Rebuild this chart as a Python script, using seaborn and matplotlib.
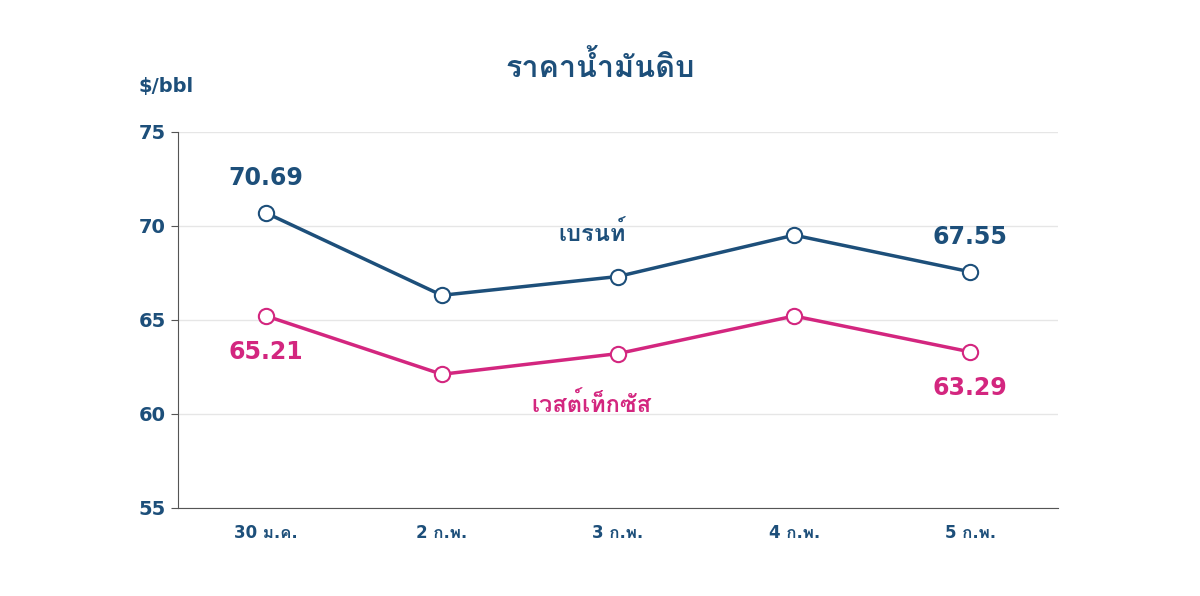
import matplotlib
matplotlib.use("Agg")
import matplotlib.pyplot as plt
import seaborn as sns
import pandas as pd
import numpy as np
from matplotlib.ticker import FixedLocator
from matplotlib import font_manager
from matplotlib.ft2font import FT2Font

categories = ["30 ม.ค.", "2 ก.พ.", "3 ก.พ.", "4 ก.พ.", "5 ก.พ."]
brent = [70.69, 66.3, 67.3, 69.5, 67.55]
wti = [65.21, 62.1, 63.2, 65.2, 63.29]

sns.set_style("white")

thai_fams = []
for fe in font_manager.fontManager.ttflist:
    try:
        cm = FT2Font(fe.fname).get_charmap()
        if 0x0E01 in cm and 0x0E4C in cm and fe.name not in thai_fams:
            thai_fams.append(fe.name)
    except Exception:
        pass
plt.rcParams['font.family'] = ['DejaVu Sans'] + thai_fams

navy = "#1d4f7a"
pink = "#d3267f"

fig = plt.figure(figsize=(12, 5.96), dpi=100)
ax = fig.add_axes([0.148, 0.148, 0.734, 0.631])
x = np.arange(len(categories))
df = pd.DataFrame({"x": np.concatenate([x, x]), "v": brent + wti,
                   "s": ["b"] * 5 + ["w"] * 5})
sns.lineplot(data=df, x="x", y="v", hue="s", palette={"b": navy, "w": pink},
             marker="o", markersize=11, markerfacecolor="white", markeredgewidth=1.5,
             linewidth=2.5, legend=False, ax=ax)
for line, c in zip(ax.lines, [navy, pink]):
    line.set_markeredgecolor(c)

ax.set_xlim(-0.5, 4.5)
ax.set_ylim(55, 75)
ax.set_yticks([55, 60, 65, 70, 75])
ax.set_xticks(x)
ax.set_xticklabels(categories)
ax.xaxis.set_minor_locator(FixedLocator(np.arange(-0.5, 5, 1)))
ax.tick_params(axis="x", which="major", length=0, pad=12)
ax.tick_params(axis="x", which="minor", length=5, color="#555")
ax.tick_params(axis="y", length=5, color="#555", left=True)
for lab in ax.get_xticklabels() + ax.get_yticklabels():
    lab.set_color(navy); lab.set_fontweight("bold")
for lab in ax.get_xticklabels(): lab.set_fontsize(12)
for lab in ax.get_yticklabels(): lab.set_fontsize(14)
ax.grid(axis="y", color="#e6e6e6", linewidth=1)
for s in ["top", "right"]:
    ax.spines[s].set_visible(False)
for s in ["left", "bottom"]:
    ax.spines[s].set_color("#555")
ax.set_xlabel(""); ax.set_ylabel("")

ax.text(0, brent[0] + 1.2, f"{brent[0]:.2f}", color=navy, fontsize=17, fontweight="bold", ha="center", va="bottom")
ax.text(4, brent[4] + 1.2, f"{brent[4]:.2f}", color=navy, fontsize=17, fontweight="bold", ha="center", va="bottom")
ax.text(0, wti[0] - 1.3, f"{wti[0]:.2f}", color=pink, fontsize=17, fontweight="bold", ha="center", va="top")
ax.text(4, wti[4] - 1.3, f"{wti[4]:.2f}", color=pink, fontsize=17, fontweight="bold", ha="center", va="top")
ax.text(1.85, 69.2, "เบรนท์", color=navy, fontsize=17, fontweight="bold", ha="center")
ax.text(1.85, 60.1, "เวสต์เท็กซัส", color=pink, fontsize=17, fontweight="bold", ha="center")

fig.text(0.5, 0.87, "ราคาน้ำมันดิบ", color=navy, fontsize=22, fontweight="bold", ha="center")
fig.text(0.138, 0.845, "$/bbl", color=navy, fontsize=14, fontweight="bold", ha="center")
fig.savefig("out.png", dpi=100)
